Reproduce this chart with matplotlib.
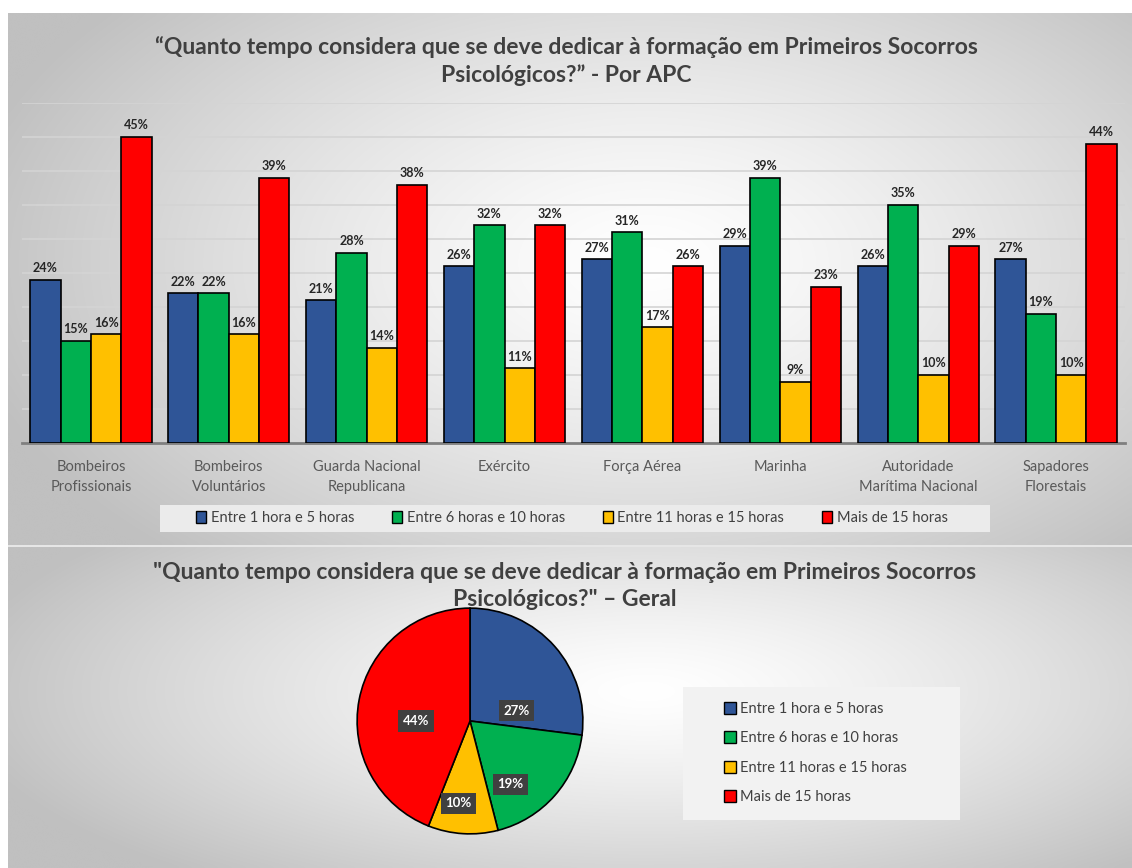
import numpy as np
import matplotlib
matplotlib.use("Agg")
import matplotlib.pyplot as plt
from matplotlib.patches import Patch, Rectangle

plt.rcParams['font.family'] = ['Lato', 'DejaVu Sans']

# data
categories = ['Bombeiros\nProfissionais', 'Bombeiros\nVoluntários', 'Guarda Nacional\nRepublicana',
              'Exército', 'Força Aérea', 'Marinha', 'Autoridade\nMarítima Nacional',
              'Sapadores\nFlorestais']
series_names = ['Entre 1 hora e 5 horas', 'Entre 6 horas e 10 horas',
                'Entre 11 horas e 15 horas', 'Mais de 15 horas']
h1_5 = [24, 22, 21, 26, 27, 29, 26, 27]
h6_10 = [15, 22, 28, 32, 31, 39, 35, 19]
h11_15 = [16, 16, 14, 11, 17, 9, 10, 10]
h15_plus = [45, 39, 38, 32, 26, 23, 29, 44]
geral = [27, 19, 10, 44]

colors = ['#2F5597', '#00B050', '#FFC000', '#FF0000']
W, H = 1132, 868


def rect(x, y, w, h):
    """ pixel box (top-left origin) -> figure fraction """
    return [x / W, 1 - (y + h) / H, w / W, h / H]


def gradient(w, h, cx, cy, low=192):
    yy, xx = np.mgrid[0:h, 0:w]
    d = np.sqrt(((xx - cx) / (w * 0.62)) ** 2 + ((yy - cy) / (h * 0.75)) ** 2)
    v = 255 - (255 - low) * np.clip(d, 0, 1) ** 1.3
    return np.dstack([v, v, v]) / 255


def box(x, y, w, h, color):
    fig.add_artist(Rectangle((x / W, 1 - (y + h) / H), w / W, h / H, transform=fig.transFigure,
                             facecolor=color, edgecolor='none', zorder=1))


fig = plt.figure(figsize=(W / 100, H / 100), dpi=100)
fig.patch.set_facecolor('white')

# panel backgrounds
bg_top = fig.add_axes(rect(8, 13, W - 8, 532), zorder=-10)
bg_top.imshow(gradient(300, 150, 170, 70), aspect='auto', interpolation='bicubic')
bg_top.axis('off')
bg_bot = fig.add_axes(rect(8, 547, W - 8, H - 547), zorder=-10)
bg_bot.imshow(gradient(300, 90, 170, 40), aspect='auto', interpolation='bicubic')
bg_bot.axis('off')
fig.add_artist(Rectangle((8 / W, 1 - 547 / H), 1, 2 / H, transform=fig.transFigure,
                         facecolor='#e6e6e6', edgecolor='none', zorder=-5))

title_color = '#404040'
fig.text(566 / W, 1 - 61 / H,
         '“Quanto tempo considera que se deve dedicar à formação em Primeiros Socorros\nPsicológicos?” - Por APC',
         ha='center', va='center', fontsize=16.5, fontweight='bold', color=title_color, linespacing=1.4)

# bar chart
ax = fig.add_axes(rect(22, 103, 1103, 340))
ax.set_facecolor('none')
x = np.arange(len(categories))
bw = 0.22
for i, vals in enumerate([h1_5, h6_10, h11_15, h15_plus]):
    bars = ax.bar(x + (i - 1.5) * bw, vals, bw, color=colors[i], edgecolor='black',
                  linewidth=1.2, zorder=3)
    ax.bar_label(bars, labels=[f'{v}%' for v in vals], padding=4, fontsize=9,
                 fontweight='bold', color='#262626')
ax.set_xlim(-0.5, len(categories) - 0.5)
ax.set_ylim(0, 50)
ax.set_yticks(np.arange(5, 51, 5))
ax.yaxis.grid(True, color='#d4d4d4', linewidth=1.2)
ax.tick_params(axis='y', left=False, labelleft=False)
ax.tick_params(axis='x', bottom=False, pad=9)
ax.set_xticks(x)
ax.set_xticklabels(categories, fontsize=10.5, color='#595959', linespacing=1.5)
for s in ['top', 'left', 'right']:
    ax.spines[s].set_visible(False)
ax.spines['bottom'].set_color('#7f7f7f')
ax.spines['bottom'].set_linewidth(2)

handles = [Patch(facecolor=c, edgecolor='black', linewidth=1) for c in colors]
box(160, 505, 830, 27, '#ebebeb')
leg = fig.legend(handles, series_names, loc='center', bbox_to_anchor=(572 / W, 1 - 518 / H),
                 ncol=4, fontsize=10.5, frameon=False, handlelength=0.7,
                 handleheight=0.9, handletextpad=0.3, columnspacing=2.6, borderpad=0.3)
for t in leg.get_texts():
    t.set_color(title_color)

# pie chart
fig.text(565 / W, 1 - 586 / H,
         '"Quanto tempo considera que se deve dedicar à formação em Primeiros Socorros\nPsicológicos?" – Geral',
         ha='center', va='center', fontsize=16.5, fontweight='bold', color=title_color, linespacing=1.3)

pax = fig.add_axes(rect(356, 607, 228, 228))
wedges, texts, autotexts = pax.pie(geral, colors=colors, startangle=90, counterclock=False,
                                   autopct='%d%%', pctdistance=0.55,
                                   wedgeprops=dict(edgecolor='black', linewidth=1.2))
label_pos = [(0.41, 0.09), (0.36, -0.56), (-0.10, -0.73), (-0.48, 0.0)]
for t, p in zip(autotexts, label_pos):
    t.set_position(p)
    t.set_color('white')
    t.set_fontweight('bold')
    t.set_fontsize(9.5)
    t.set_bbox(dict(boxstyle='square,pad=0.35', facecolor='#404040', edgecolor='none'))
pax.set_aspect('equal')
pax.set_xlim(-1.01, 1.01)
pax.set_ylim(-1.01, 1.01)

box(683, 687, 277, 133, '#f2f2f2')
leg2 = fig.legend(handles, series_names, loc='center left', bbox_to_anchor=(718 / W, 1 - 753 / H),
                  ncol=1, fontsize=10.5, frameon=False, handlelength=0.8,
                  handleheight=0.9, handletextpad=0.3, labelspacing=1.05, borderaxespad=0)
for t in leg2.get_texts():
    t.set_color(title_color)

fig.savefig('out.png', dpi=100)
